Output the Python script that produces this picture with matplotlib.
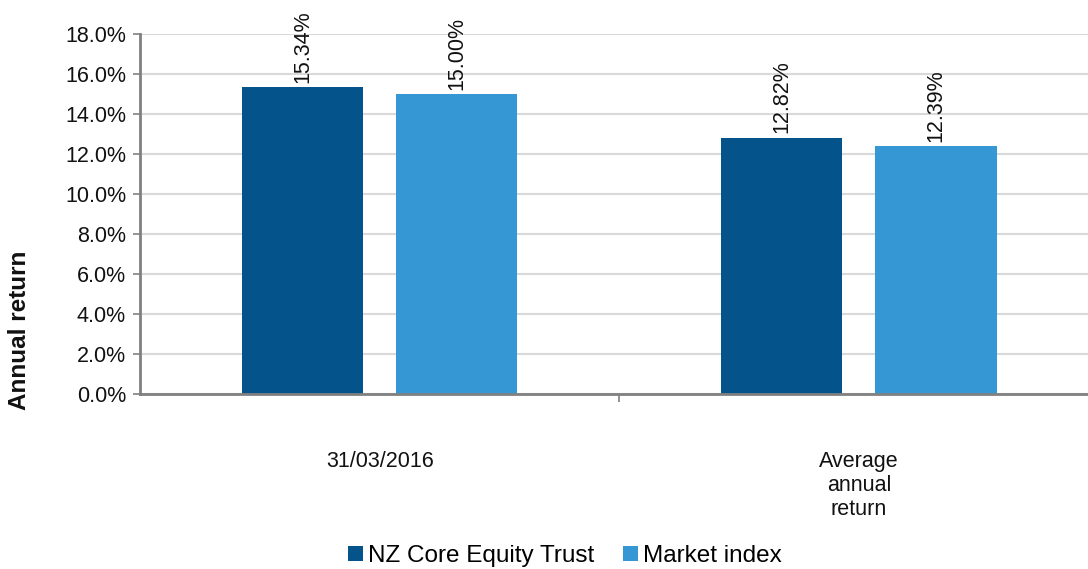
import matplotlib
matplotlib.use('Agg')
import matplotlib.pyplot as plt
import numpy as np

categories = ["31/03/2016", "Average\nannual\nreturn"]
series_names = ["NZ Core Equity Trust", "Market index"]
trust_vals = [15.34, 12.82]
index_vals = [15.00, 12.39]
colors = ["#04548B", "#3598D4"]

plt.rcParams['font.family'] = ['Liberation Sans', 'DejaVu Sans']

W, H, DPI = 1088, 569, 100
fig = plt.figure(figsize=(W/DPI, H/DPI), dpi=DPI)
# axes in pixel coords: left 140, bottom y=394, top y=34
ax = fig.add_axes([140/W, (H-394)/H, (W-140)/W, 360/H])

x = np.arange(len(categories))
bw = 0.253
off = 0.161
for vals, c, dx, name in [(trust_vals, colors[0], -off, series_names[0]),
                          (index_vals, colors[1], off, series_names[1])]:
    bars = ax.bar(x + dx, vals, bw, color=c, label=name, zorder=3)
    for b, v in zip(bars, vals):
        ax.annotate(f"{v:.2f}%", (b.get_x() + b.get_width()/2, v),
                    xytext=(0, 3), textcoords='offset points',
                    rotation=90, ha='center', va='bottom', fontsize=15.5, color='#111111')

ax.set_xlim(-0.5, 0.5 + (W - 619.5)/479)
ax.set_ylim(0, 18)
ax.set_yticks(np.arange(0, 18.1, 2))
ax.set_yticklabels([f"{t:.1f}%" for t in np.arange(0, 18.1, 2)], fontsize=15.5, color='#111111')
ax.yaxis.grid(True, color='#d9d9d9', lw=1.5, zorder=0)
ax.tick_params(axis='y', length=5, width=1.2, color='#808080', pad=5)

ax.set_xticks(x)
ax.set_xticklabels(categories, fontsize=15.5, color='#111111', linespacing=1.2)
ax.tick_params(axis='x', which='major', length=0, pad=41)
ax.set_xticks([0.5], minor=True)
ax.tick_params(axis='x', which='minor', length=6, width=1.2, color='#808080')

for s in ['top', 'right']:
    ax.spines[s].set_visible(False)
for s in ['left', 'bottom']:
    ax.spines[s].set_color('#808080')
    ax.spines[s].set_linewidth(2)
    ax.spines[s].set_zorder(4)

fig.text(20/W, 1 - 330/H, "Annual return", rotation=90, ha='center', va='center',
         fontsize=17.5, fontweight='bold', color='#111111')

fig.legend(loc='center', bbox_to_anchor=(565/W, 1 - 556/H), ncol=2, frameon=False,
           fontsize=17.5, handlelength=0.6, handleheight=0.6, handletextpad=0.2,
           columnspacing=1.2)

fig.savefig("out.png", dpi=DPI)
